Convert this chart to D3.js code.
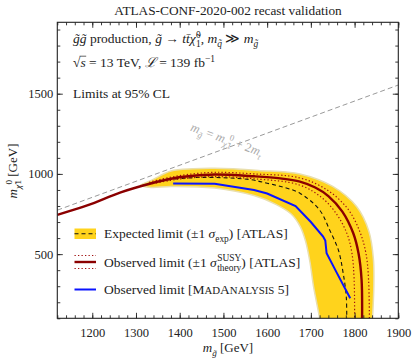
<!DOCTYPE html>
<html>
<head>
<meta charset="utf-8">
<script src="https://cdn.jsdelivr.net/npm/d3@7"></script>
<style>
  body { margin: 0; background: #fff; }
  svg text { font-family: "Liberation Serif", "DejaVu Serif", serif; fill: #222; }
</style>
</head>
<body>
<svg width="412" height="361"></svg>
<script>
// ---- data (m_gluino, m_neutralino) in GeV ----
const obsAtlas = [[1120,745],[1190,805],[1265,885],[1340,945],[1380,970],[1420,985],[1480,996],[1570,985],[1630,972],[1675,952],[1710,915],[1740,862],[1772,765],[1797,630],[1809,505],[1816,340],[1817,60]];
const obsUp = [[1330,948],[1380,980],[1420,997],[1480,1010],[1570,1000],[1675,975],[1740,895],[1785,780],[1812,640],[1826,505],[1832,340],[1834,60]];
const obsDown = [[1330,935],[1380,960],[1420,974],[1480,983],[1570,970],[1675,930],[1728,845],[1760,745],[1783,625],[1794,505],[1799,340],[1800,60]];
const expAtlas = [[1310,925],[1360,958],[1420,975],[1480,978],[1560,965],[1600,942],[1640,915],[1675,880],[1720,775],[1743,650],[1763,525],[1774,380],[1781,235],[1782,60]];
const bandUp = [[1310,928],[1335,960],[1380,1018],[1430,1032],[1480,1035],[1580,1022],[1675,1000],[1750,922],[1805,795],[1833,640],[1843,470],[1844,300],[1841,100],[1840,60]];
const bandDown = [[1335,916],[1380,922],[1480,912],[1570,865],[1620,810],[1655,750],[1676,670],[1688,580],[1698,450],[1706,300],[1720,100],[1722,60]];
const obsMA5 = [[1385,940],[1480,938],[1570,900],[1600,878],[1665,800],[1700,700],[1728,610],[1733,585],[1736,505],[1760,380],[1790,225]];
const topMass = 173;
const xTicks = [1200,1300,1400,1500,1600,1700,1800,1900];
const yTicks = [500,1000,1500];

const margin = {top: 22.3, right: 13.7, bottom: 42.7, left: 57.3};
const W = 412, H = 361;
const w = W - margin.left - margin.right, h = H - margin.top - margin.bottom;

const svg = d3.select("svg");
const g = svg.append("g").attr("transform", `translate(${margin.left},${margin.top})`);

const x = d3.scaleLinear().domain([1120, 1900]).range([0, w]);
const y = d3.scaleLinear().domain([100, 1945]).range([h, 0]);

// rich text helper: segments {t, it, sub, sup, stack:[sup,sub]}
function rich(text, segs, size) {
    let shift = 0;
    let pendingDx = 0;
    const nodes = [];
    segs.forEach(s => {
        if (s.stack) {
            const small = size * 0.7;
            let t1 = text.append("tspan").text(s.stack[0])
                .attr("dy", -size * 0.38 - shift).attr("dx", pendingDx + 0.5)
                .style("font-size", small + "px").style("font-style", "normal");
            const l1 = t1.node().getComputedTextLength();
            let t2 = text.append("tspan").text(s.stack[1])
                .attr("dy", size * 0.38 + size * 0.3).attr("dx", -l1)
                .style("font-size", small + "px").style("font-style", "normal");
            const l2 = t2.node().getComputedTextLength();
            shift = size * 0.3;
            pendingDx = Math.max(0, l1 - l2);
            nodes.push(t1, t2);
            return;
        }
        const target = s.sub ? size * 0.3 : s.sup ? -size * 0.4 : 0;
        const ts = text.append("tspan").text(s.t)
            .attr("dy", target - shift)
            .attr("dx", pendingDx)
            .style("font-size", ((s.sub || s.sup) ? size * (s.scale || 0.7) : size * (s.scale || 1)) + "px")
            .style("font-style", s.it ? "italic" : "normal");
        nodes.push(ts);
        pendingDx = 0;
        shift = target;
    });
    return nodes;
}
// centre a start-anchored rich text on its own x
function centre(text) {
    const bw = text.node().getBBox().width;
    text.attr("x", -bw / 2);
}

// clip for the curves
svg.append("defs").append("clipPath").attr("id", "plotclip")
    .append("rect").attr("width", w).attr("height", h);
const plot = g.append("g").attr("clip-path", "url(#plotclip)");

const smooth = d3.line().x(d => x(d[0])).y(d => y(d[1])).curve(d3.curveCatmullRom.alpha(0.5));
const straight = d3.line().x(d => x(d[0])).y(d => y(d[1]));

// kinematic limit
const diag = [[1120, 1120 - 2 * topMass], [1900, 1900 - 2 * topMass]];
plot.append("path").attr("d", straight(diag))
    .attr("fill", "none").attr("stroke", "#999").attr("stroke-width", 1)
    .attr("stroke-dasharray", "5,3");

// expected band
const bandPoly = bandUp.concat(bandDown.slice().reverse());
plot.append("path")
    .attr("d", d3.line().x(d => x(d[0])).y(d => y(d[1])).curve(d3.curveCatmullRomClosed.alpha(0.5))(bandPoly))
    .attr("fill", "#ffd31c").attr("stroke", "#e9dfae").attr("stroke-width", 1.5);

plot.append("path").attr("d", smooth(expAtlas))
    .attr("fill", "none").attr("stroke", "#111").attr("stroke-width", 1.1).attr("stroke-dasharray", "4,3");

plot.append("path").attr("d", smooth(obsUp))
    .attr("fill", "none").attr("stroke", "#a01010").attr("stroke-width", 1.2).attr("stroke-dasharray", "1.3,2.2");
plot.append("path").attr("d", smooth(obsDown))
    .attr("fill", "none").attr("stroke", "#a01010").attr("stroke-width", 1.2).attr("stroke-dasharray", "1.3,2.2");

plot.append("path").attr("d", smooth(obsAtlas))
    .attr("fill", "none").attr("stroke", "#8b0000").attr("stroke-width", 2.4);

plot.append("path").attr("d", straight(obsMA5))
    .attr("fill", "none").attr("stroke", "#0a14ff").attr("stroke-width", 2);

// diagonal label
const ang = Math.atan2(y(1157 - 100) - y(1157), x(1603) - x(1503)) * 180 / Math.PI;
const labG = g.append("g").attr("transform", `translate(${x(1500)},${y(1154)}) rotate(${ang})`);
const lab = labG.append("text").attr("y", -6).style("font-size", "12.5px");
rich(lab, [{t: "m", it: 1}, {t: "g\u0303", it: 1, sub: 1}, {t: " = "}, {t: "m", it: 1},
    {t: "χ\u0303", it: 1, sub: 1}, {stack: ["0", "1"]}, {t: " + 2"}, {t: "m", it: 1}, {t: "t", it: 1, sub: 1}], 12.5);
lab.selectAll("tspan").style("fill", "#aaa");
centre(lab);

// axes (ticks inward on all four sides)
function styleAxis(sel) {
    sel.select(".domain").remove();
    sel.selectAll("line").attr("stroke", "#222").attr("stroke-width", 0.9);
    sel.selectAll("text").style("font-size", "12.5px").style("font-family", "Liberation Serif, serif").attr("fill", "#222");
}
const xMinor = d3.range(1120, 1901, 20);
const yMinor = d3.range(100, 1901, 100);

g.append("g").attr("transform", `translate(0,${h})`)
    .call(d3.axisBottom(x).tickValues(xMinor).tickSize(-3).tickFormat("")).call(styleAxis);
g.append("g").attr("transform", `translate(0,${h})`)
    .call(d3.axisBottom(x).tickValues(xTicks).tickSize(-5.5).tickPadding(10).tickFormat(d3.format("d"))).call(styleAxis);
g.append("g")
    .call(d3.axisTop(x).tickValues(xMinor).tickSize(-3).tickFormat("")).call(styleAxis);
g.append("g")
    .call(d3.axisTop(x).tickValues(xTicks).tickSize(-5.5).tickFormat("")).call(styleAxis);
g.append("g")
    .call(d3.axisLeft(y).tickValues(yMinor).tickSize(-3).tickFormat("")).call(styleAxis);
g.append("g")
    .call(d3.axisLeft(y).tickValues(yTicks).tickSize(-5.5).tickPadding(4).tickFormat(d3.format("d"))).call(styleAxis);
g.append("g").attr("transform", `translate(${w},0)`)
    .call(d3.axisRight(y).tickValues(yMinor).tickSize(-3).tickFormat("")).call(styleAxis);
g.append("g").attr("transform", `translate(${w},0)`)
    .call(d3.axisRight(y).tickValues(yTicks).tickSize(-5.5).tickFormat("")).call(styleAxis);

g.append("rect").attr("width", w).attr("height", h)
    .attr("fill", "none").attr("stroke", "#222").attr("stroke-width", 1.1);

// title and axis labels
svg.append("text").attr("x", 228).attr("y", 15).attr("text-anchor", "middle")
    .style("font-size", "13.3px").text("ATLAS-CONF-2020-002 recast validation");

const xl = svg.append("g").attr("transform", "translate(228,352)").append("text").style("font-size", "13px");
rich(xl, [{t: "m", it: 1}, {t: "g\u0303", it: 1, sub: 1}, {t: " [GeV]"}], 13);
centre(xl);

const yl = svg.append("g").attr("transform", "translate(17,171) rotate(-90)").append("text").style("font-size", "13px");
rich(yl, [{t: "m", it: 1}, {t: "χ\u0303", it: 1, sub: 1}, {stack: ["0", "1"]}, {t: " [GeV]"}], 13);
centre(yl);

// annotations
const fs = 13.5;
rich(svg.append("text").attr("x", 73).attr("y", 43).style("font-size", fs + "px"),
    [{t: "g\u0303g\u0303", it: 1}, {t: " production, "}, {t: "g\u0303", it: 1}, {t: " → "},
     {t: "tt\u0304χ\u0303", it: 1}, {stack: ["0", "1"]}, {t: ",  "}, {t: "m", it: 1}, {t: "q\u0303", it: 1, sub: 1},
     {t: " ≫ "}, {t: "m", it: 1}, {t: "g\u0303", it: 1, sub: 1}], fs);
const l2 = rich(svg.append("text").attr("x", 73).attr("y", 67).style("font-size", fs + "px"),
    [{t: "√"}, {t: "s", it: 1}, {t: " = 13 TeV,  "}, {t: "ℒ", it: 1}, {t: " = 139 fb"}, {t: "−1", sup: 1}], fs);
// overbar of the square root
{
    const rootBox = l2[0].node().getExtentOfChar(0);
    const sBox = l2[1].node().getExtentOfChar(0);
    svg.append("line").attr("x1", rootBox.x + rootBox.width - 0.8).attr("x2", sBox.x + sBox.width + 0.5)
        .attr("y1", rootBox.y + 1.2).attr("y2", rootBox.y + 1.2)
        .attr("stroke", "#222").attr("stroke-width", 0.7);
}
svg.append("text").attr("x", 73).attr("y", 98).style("font-size", fs + "px").text("Limits at 95% CL");

// legend
const leg = svg.append("g");
leg.append("rect").attr("x", 74.5).attr("y", 228.5).attr("width", 21.5).attr("height", 10.5).attr("fill", "#ffd31c");
leg.append("line").attr("x1", 74.5).attr("x2", 96).attr("y1", 233.7).attr("y2", 233.7)
    .attr("stroke", "#111").attr("stroke-width", 1.1).attr("stroke-dasharray", "4,3");
rich(leg.append("text").attr("x", 104).attr("y", 238).style("font-size", fs + "px"),
    [{t: "Expected limit (±1 "}, {t: "σ", it: 1}, {t: "exp", sub: 1}, {t: ") [ATLAS]"}], fs);

[255.5, 268.5].forEach(yy => leg.append("line").attr("x1", 74.5).attr("x2", 96).attr("y1", yy).attr("y2", yy)
    .attr("stroke", "#a01010").attr("stroke-width", 1.2).attr("stroke-dasharray", "1.3,2.2"));
leg.append("line").attr("x1", 74.5).attr("x2", 96).attr("y1", 262).attr("y2", 262)
    .attr("stroke", "#8b0000").attr("stroke-width", 2.4);
rich(leg.append("text").attr("x", 104).attr("y", 266.5).style("font-size", fs + "px"),
    [{t: "Observed limit (±1 "}, {t: "σ", it: 1}, {stack: ["SUSY", "theory"]}, {t: ") [ATLAS]"}], fs);

leg.append("line").attr("x1", 74.5).attr("x2", 96).attr("y1", 289.5).attr("y2", 289.5)
    .attr("stroke", "#0a14ff").attr("stroke-width", 2);
rich(leg.append("text").attr("x", 104).attr("y", 294).style("font-size", fs + "px"),
    [{t: "Observed limit [M"}, {t: "AD", scale: 0.8}, {t: "A"}, {t: "NALYSIS", scale: 0.8}, {t: " 5]"}], fs);
</script>
</body>
</html>
